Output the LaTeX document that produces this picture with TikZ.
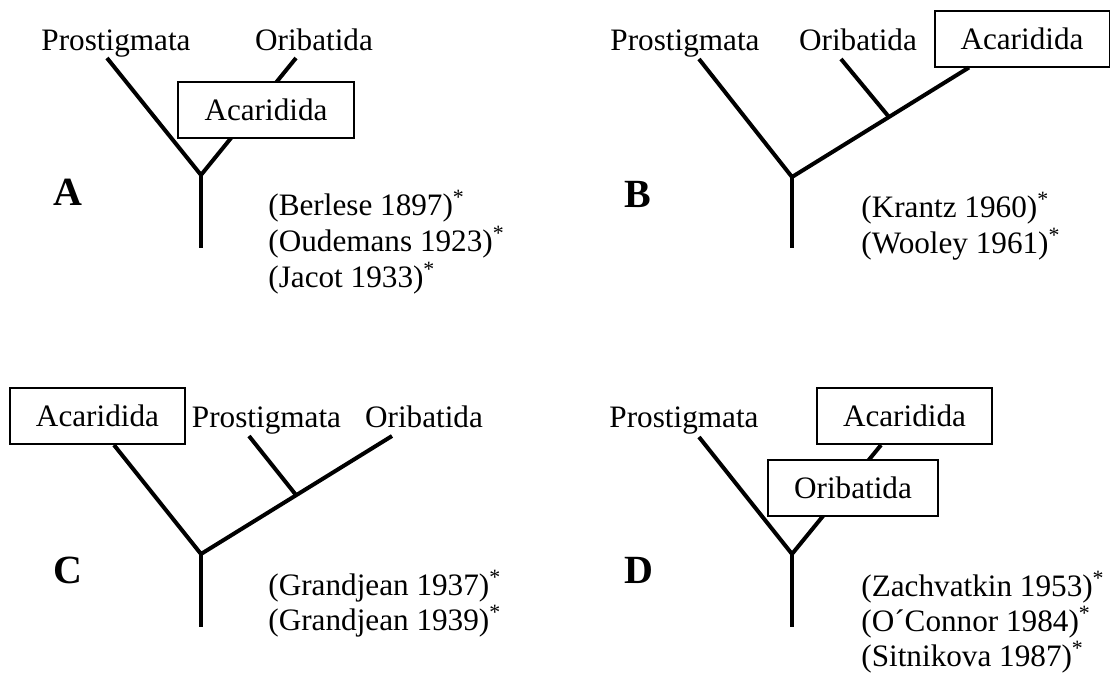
\documentclass[tikz,border=0pt]{standalone}
\usepackage{fontspec}
\setmainfont{Liberation Serif}
\begin{document}
\begin{tikzpicture}[x=0.5pt, y=-0.5pt,
    taxon/.style={font=\fontsize{15.6}{18}\selectfont, inner sep=0pt, anchor=base},
    taxbox/.style={taxon, draw, line width=1pt, fill=white, anchor=center,
        inner xsep=13pt, minimum height=28pt},
    branch/.style={line width=2pt},
    panel/.style={font=\fontsize{20}{20}\selectfont\bfseries, inner sep=0pt, anchor=base west},
    refs/.style={font=\fontsize{15.6}{18}\selectfont, inner sep=0pt, anchor=base west}]
    \useasboundingbox (0,0) rectangle (1110,675);

    % A
    \node[taxon] (pA) at (116,50) {Prostigmata};
    \node[taxon] (oA) at (314,50) {Oribatida};
    \coordinate (jA) at (201,175);
    \coordinate (sA) at (201,248);
    \draw[branch] ([shift={(-9,8)}]pA.base) -- (jA) -- ([shift={(-18,8)}]oA.base);
    \draw[branch] (jA) -- (sA);
    \node[taxbox] (aA) at (266,110) {Acaridida};
    \node[panel] (lA) at (53,205) {A};
    \foreach \txt [count=\i] in {Berlese 1897, Oudemans 1923, Jacot 1933}
        \node[refs] (rA\i) at (268,179+36*\i) {(\txt)\textsuperscript{*}};

    % B
    \node[taxon] (pB) at (685,50) {Prostigmata};
    \node[taxon] (oB) at (858,50) {Oribatida};
    \node[taxbox] (aB) at (1022,38.5) {Acaridida};
    \coordinate (jB) at (792,177);
    \coordinate (sB) at (792,248);
    \coordinate (kB) at (889,117);
    \draw[branch] ([shift={(14,9)}]pB.base) -- (jB) -- ([shift={(-53,0)}]aB.south);
    \draw[branch] ([shift={(-17,9)}]oB.base) -- (kB);
    \draw[branch] (jB) -- (sB);
    \node[panel] (lB) at (624,207) {B};
    \foreach \txt [count=\i] in {Krantz 1960, Wooley 1961}
        \node[refs] (rB\i) at (861,181+36*\i) {(\txt)\textsuperscript{*}};

    % C
    \node[taxbox] (aC) at (97.5,416) {Acaridida};
    \node[taxon] (pC) at (266.5,427) {Prostigmata};
    \node[taxon] (oC) at (424,427) {Oribatida};
    \coordinate (jC) at (201,554);
    \coordinate (sC) at (201,627);
    \coordinate (kC) at (296,495);
    \draw[branch] ([shift={(16.5,0)}]aC.south) -- (jC) -- ([shift={(-32,9)}]oC.base);
    \draw[branch] ([shift={(-17.5,9)}]pC.base) -- (kC);
    \draw[branch] (jC) -- (sC);
    \node[panel] (lC) at (53,583) {C};
    \foreach \txt [count=\i] in {Grandjean 1937, Grandjean 1939}
        \node[refs] (rC\i) at (268,560+35*\i) {(\txt)\textsuperscript{*}};

    % D
    \node[taxon] (pD) at (684,427) {Prostigmata};
    \node[taxbox] (aD) at (904.5,416) {Acaridida};
    \coordinate (jD) at (792,554);
    \coordinate (sD) at (792,627);
    \draw[branch] ([shift={(15,10)}]pD.base) -- (jD) -- ([shift={(-23.5,0)}]aD.south);
    \draw[branch] (jD) -- (sD);
    \node[taxbox] (oD) at (853,488) {Oribatida};
    \node[panel] (lD) at (624,583) {D};
    \foreach \txt [count=\i] in {Zachvatkin 1953, O´Connor 1984, Sitnikova 1987}
        \node[refs] (rD\i) at (861,561+35*\i) {(\txt)\textsuperscript{*}};
\end{tikzpicture}
\end{document}
